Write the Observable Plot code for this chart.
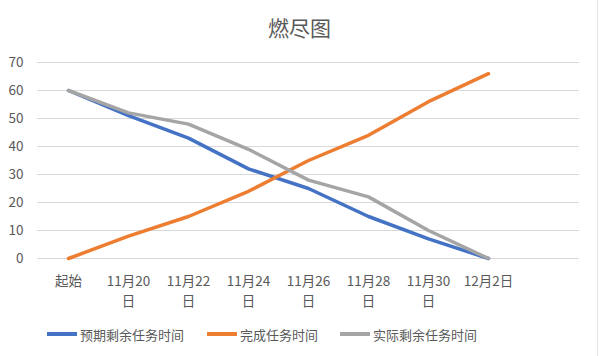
<!DOCTYPE html>
<html>
<head>
<meta charset="utf-8">
<script src="https://cdn.jsdelivr.net/npm/d3@7"></script>
<script src="https://cdn.jsdelivr.net/npm/@observablehq/plot@0.6"></script>
<style>
  body { margin: 0; background: #fff; font-family: "Noto Sans CJK SC", sans-serif; }
  #wrap { position: relative; width: 599px; height: 356px; overflow: hidden; }
  #title { position: absolute; left: 0; top: 12px; width: 599px; text-align: center; font-size: 21px; color: #595959; line-height: 30px; }
  #chart { position: absolute; left: 0; top: 50px; }
  #legend { position: absolute; left: 0; top: 322px; width: 599px; height: 24px; font-size: 13px; color: #595959; }
  .item { position: absolute; top: 0; display: flex; align-items: center; height: 24px; }
  .sw { width: 30px; height: 3.5px; margin-right: 3px; }
  #border { position: absolute; left: 597px; top: 0; width: 1px; height: 356px; background: #e3e3e3; }
</style>
</head>
<body>
<div id="wrap">
  <div id="title"></div>
  <div id="chart"></div>
  <div id="legend"></div>
  <div id="border"></div>
</div>
<script>
const title = "燃尽图";
const categories = ["起始", "11月20日", "11月22日", "11月24日", "11月26日", "11月28日", "11月30日", "12月2日", " "];
const tickLabels = ["起始", "11月20\n日", "11月22\n日", "11月24\n日", "11月26\n日", "11月28\n日", "11月30\n日", "12月2日", ""];
const seriesNames = ["预期剩余任务时间", "完成任务时间", "实际剩余任务时间"];
const seriesColors = ["#4472C4", "#ED7D31", "#A5A5A5"];
const planned = [60, 51, 43, 32, 25, 15, 7, 0];
const completed = [0, 8, 15, 24, 35, 44, 56, 66];
const actual = [60, 52, 48, 39, 28, 22, 10, 0];
const yTicks = [0, 10, 20, 30, 40, 50, 60, 70];

document.getElementById("title").textContent = title;

const seriesValues = [planned, completed, actual];
const data = [];
seriesValues.forEach((vals, s) => vals.forEach((v, i) => data.push({cat: categories[i], value: v, series: seriesNames[s]})));

const labelMap = new Map(categories.map((c, i) => [c, tickLabels[i]]));

const chart = Plot.plot({
  width: 599,
  height: 265,
  marginLeft: 37,
  marginRight: 20,
  marginTop: 12,
  marginBottom: 57,
  style: {fontFamily: "'Noto Sans CJK SC', sans-serif", color: "#595959", background: "transparent"},
  x: {type: "point", domain: categories, padding: 0.5, label: null},
  y: {domain: [0, 70], ticks: yTicks, label: null},
  color: {domain: seriesNames, range: seriesColors},
  marks: [
    Plot.gridY(yTicks, {stroke: "#d9d9d9", strokeOpacity: 1, strokeWidth: 1}),
    Plot.axisY(yTicks, {tickSize: 0, tickPadding: 14, fontSize: 13.5, fill: "#595959", label: null}),
    Plot.axisX({tickSize: 0, tickPadding: 13, fontSize: 13.5, fill: "#595959", lineHeight: 1.5, tickFormat: d => labelMap.get(d), label: null}),
    Plot.line(data, {x: "cat", y: "value", z: "series", stroke: "series", strokeWidth: 3.5, curve: "linear", strokeLinejoin: "round", strokeLinecap: "round"})
  ]
});
document.getElementById("chart").appendChild(chart);

const legend = document.getElementById("legend");
const lefts = [47, 207, 340];
seriesNames.forEach((n, i) => {
  const item = document.createElement("div");
  item.className = "item";
  item.style.left = lefts[i] + "px";
  item.innerHTML = `<div class="sw" style="background:${seriesColors[i]}"></div><span>${n}</span>`;
  legend.appendChild(item);
});
</script>
</body>
</html>
